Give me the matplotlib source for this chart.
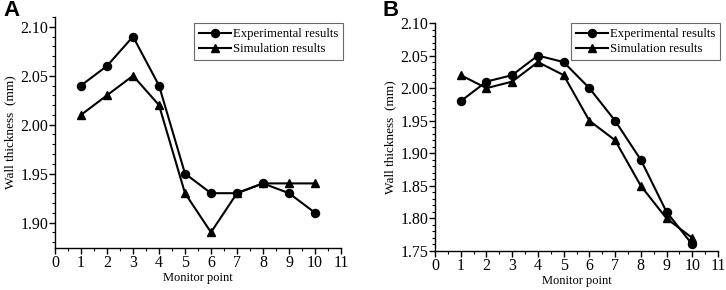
import matplotlib
matplotlib.use("Agg")
import matplotlib.pyplot as plt
from matplotlib.ticker import MultipleLocator

# Data
points = [1, 2, 3, 4, 5, 6, 7, 8, 9, 10]
exp_a = [2.04, 2.06, 2.09, 2.04, 1.95, 1.93, 1.93, 1.94, 1.93, 1.91]
sim_a = [2.01, 2.03, 2.05, 2.02, 1.93, 1.89, 1.93, 1.94, 1.94, 1.94]
exp_b = [1.98, 2.01, 2.02, 2.05, 2.04, 2.00, 1.95, 1.89, 1.81, 1.76]
sim_b = [2.02, 2.00, 2.01, 2.04, 2.02, 1.95, 1.92, 1.85, 1.80, 1.77]

plt.rcParams['font.family'] = ['Liberation Serif', 'DejaVu Serif']

fig = plt.figure(figsize=(7.26, 2.90), dpi=100)
W, H = 726, 290

def make_axes(l, t, r, b):
    return fig.add_axes([l / W, 1 - b / H, (r - l) / W, (b - t) / H])

axA = make_axes(55, 17, 341, 248)
axB = make_axes(435, 23, 718, 251)

def style(ax, exp, sim, ylim, yticks, label, lx, ly, leg_xy):
    ax.plot(points, exp, '-o', color='black', lw=1.5, ms=5.8, label='Experimental results')
    ax.plot(points, sim, '-^', color='black', lw=1.5, ms=5.8, label='Simulation results')
    ax.set_xlim(0, 11)
    ax.set_ylim(*ylim)
    ax.set_xticks(range(0, 12))
    ax.set_yticks(yticks)
    ax.xaxis.set_minor_locator(MultipleLocator(0.5))
    ax.yaxis.set_minor_locator(MultipleLocator(0.01))
    ax.spines['top'].set_visible(False)
    ax.spines['right'].set_visible(False)
    for s in ('left', 'bottom'):
        ax.spines[s].set_linewidth(1.0)
    ax.tick_params(which='major', direction='out', length=4, width=1.0, labelsize=11.5, pad=1)
    ax.tick_params(which='minor', direction='out', length=2, width=0.8)
    ax.set_yticklabels(['%.2f' % v for v in yticks])
    ax.set_xlabel('Monitor point', fontsize=9, labelpad=1)
    ax.set_ylabel('Wall thickness  (mm)', fontsize=9.5, labelpad=3)
    leg = ax.legend(loc='upper right', fontsize=9.2, frameon=True, fancybox=False,
                    handlelength=2.5, handletextpad=0.1, borderpad=0.4,
                    labelspacing=0.25, borderaxespad=0,
                    bbox_to_anchor=(leg_xy[0] / W, 1 - leg_xy[1] / H),
                    bbox_transform=fig.transFigure)
    leg.get_frame().set_edgecolor('#444444')
    leg.get_frame().set_linewidth(0.8)
    fig.text(lx / W, 1 - ly / H, label, fontsize=16, fontweight='bold',
             family='Liberation Sans', ha='left', va='center')

style(axA, exp_a, sim_a, (1.874, 2.11), [1.90, 1.95, 2.00, 2.05, 2.10], 'A', 3, 11, (343, 23))
style(axB, exp_b, sim_b, (1.75, 2.10), [1.75, 1.80, 1.85, 1.90, 1.95, 2.00, 2.05, 2.10], 'B', 383, 10, (720, 23))

fig.savefig('out.png', dpi=100)
